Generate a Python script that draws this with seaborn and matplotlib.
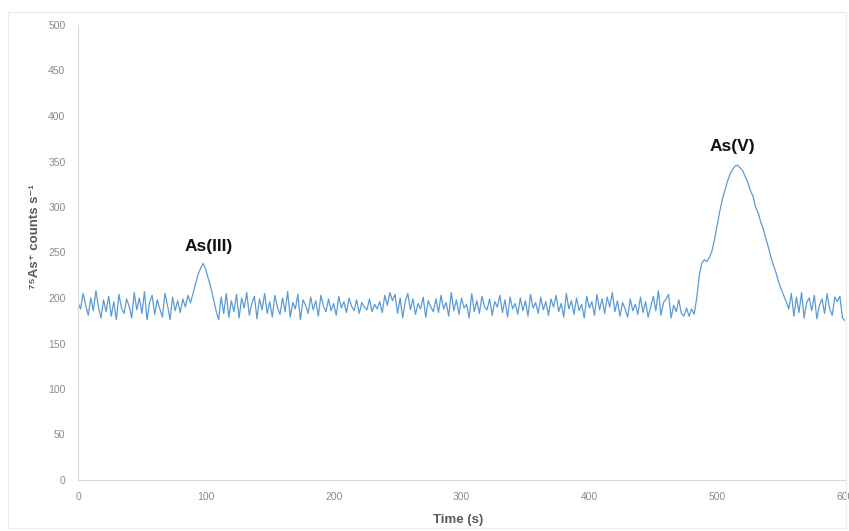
import numpy as np
import pandas as pd
import matplotlib
matplotlib.use("Agg")
import matplotlib.pyplot as plt
import seaborn as sns
from matplotlib.patches import Rectangle

# Time step of the signal (s)
time_start = 0
time_step = 2

counts = [
    # t = 0..38
    195, 188, 205, 192, 181, 200, 186, 208, 190, 178, 198, 185, 202, 180, 196, 176, 204, 189, 183, 199,
    # t = 40..78
    191, 178, 206, 187, 200, 183, 207, 176, 195, 203, 182, 198, 188, 179, 205, 192, 176, 201, 186, 197,
    # t = 80..118 (As(III) peak)
    184, 199, 190, 203, 195, 205, 216, 226, 233, 238, 231, 221, 211, 199, 186, 176, 201, 183, 205, 179,
    # t = 120..158
    197, 185, 204, 178, 200, 189, 206, 181, 194, 202, 177, 199, 187, 205, 183, 196, 179, 203, 190, 182,
    # t = 160..198
    200, 185, 207, 179, 195, 188, 204, 176, 198, 192, 183, 201, 187, 197, 180, 203, 191, 185, 199, 186,
    # t = 200..238
    194, 181, 202, 189, 196, 184, 200, 191, 186, 198, 183, 195, 190, 187, 199, 185, 193, 188, 196, 184,
    # t = 240..278
    203, 192, 206, 197, 204, 183, 200, 178, 196, 205, 187, 199, 182, 194, 188, 201, 179, 197, 190, 185,
    # t = 280..318
    199, 184, 203, 188, 195, 180, 206, 186, 198, 182, 200, 189, 193, 178, 205, 185, 197, 183, 202, 190,
    # t = 320..358
    187, 199, 181, 196, 190, 203, 184, 198, 179, 201, 188, 194, 182, 200, 186, 197, 180, 204, 189, 195,
    # t = 360..398
    183, 201, 187, 196, 181, 199, 190, 203, 185, 194, 179, 205, 188, 197, 182, 200, 186, 193, 178, 202,
    # t = 400..438
    189, 196, 181, 204, 187, 199, 183, 201, 190, 206, 185, 197, 180, 195, 188, 179, 199, 186, 193, 182,
    # t = 440..478
    201, 184, 196, 179, 190, 202, 186, 208, 181, 195, 199, 204, 178, 192, 185, 198, 183, 180, 189, 180,
    # t = 480..518 (As(V) peak rising)
    188, 182, 200, 225, 238, 242, 240, 245, 252, 265, 280, 295, 308, 318, 328, 336, 341, 345, 346, 343,
    # t = 520..558
    340, 333, 327, 318, 312, 300, 294, 284, 276, 266, 256, 245, 236, 228, 218, 210, 203, 196, 188, 205,
    # t = 560..598
    180, 201, 184, 206, 178, 195, 200, 186, 203, 177, 192, 199, 183, 205, 188, 181, 201, 196, 202, 178,
    # t = 600
    175,
]
times = [time_start + i * time_step for i in range(len(counts))]

x_ticks = [0, 100, 200, 300, 400, 500, 600]
y_ticks = [0, 50, 100, 150, 200, 250, 300, 350, 400, 450, 500]

peak_labels = ["As(III)", "As(V)"]
peak_label_pos = [(102, 257), (512, 366)]

df = pd.DataFrame({"Time (s)": times, "counts": counts})

sns.set_theme(style="white")
plt.rcParams["font.family"] = ["Liberation Sans", "DejaVu Sans"]

fig = plt.figure(figsize=(8.49, 5.31), dpi=100)
ax = fig.add_axes([78 / 849, 1 - 480 / 531, 767 / 849, 455 / 531])

sns.lineplot(data=df, x="Time (s)", y="counts", ax=ax, color="#5B9BD5", linewidth=0.9)

ax.set_xlim(0, 600)
ax.set_ylim(0, 500)
ax.set_xticks(x_ticks)
ax.set_yticks(y_ticks)
ax.set_xticklabels([str(v) for v in x_ticks])
ax.set_yticklabels([str(v) for v in y_ticks])
ax.tick_params(axis="both", length=0, labelsize=7.5, labelcolor="#8a8a8a")
ax.tick_params(axis="y", pad=9)
ax.tick_params(axis="x", pad=9)

for side in ["top", "right"]:
    ax.spines[side].set_visible(False)
for side in ["left", "bottom"]:
    ax.spines[side].set_color("#d9d9d9")
    ax.spines[side].set_linewidth(0.8)

ax.set_xlabel("Time (s)", fontsize=9.5, fontweight="bold", color="#595959")
ax.xaxis.set_label_coords(0.495, -0.074)
ax.set_ylabel("\u2077\u2075As\u207a counts s\u207b\u00b9", fontsize=9.5, fontweight="bold", color="#595959")
ax.yaxis.set_label_coords(-0.048, 0.535)

for lab, (px, py) in zip(peak_labels, peak_label_pos):
    ax.text(px, py, lab, ha="center", va="center", fontsize=12.5, fontweight="bold", color="#111111")

fig.patches.append(Rectangle((8 / 849, 3 / 531), 838 / 849, 516 / 531, transform=fig.transFigure,
                             fill=False, edgecolor="#ececec", linewidth=0.8))

fig.savefig("out.png", dpi=100)
